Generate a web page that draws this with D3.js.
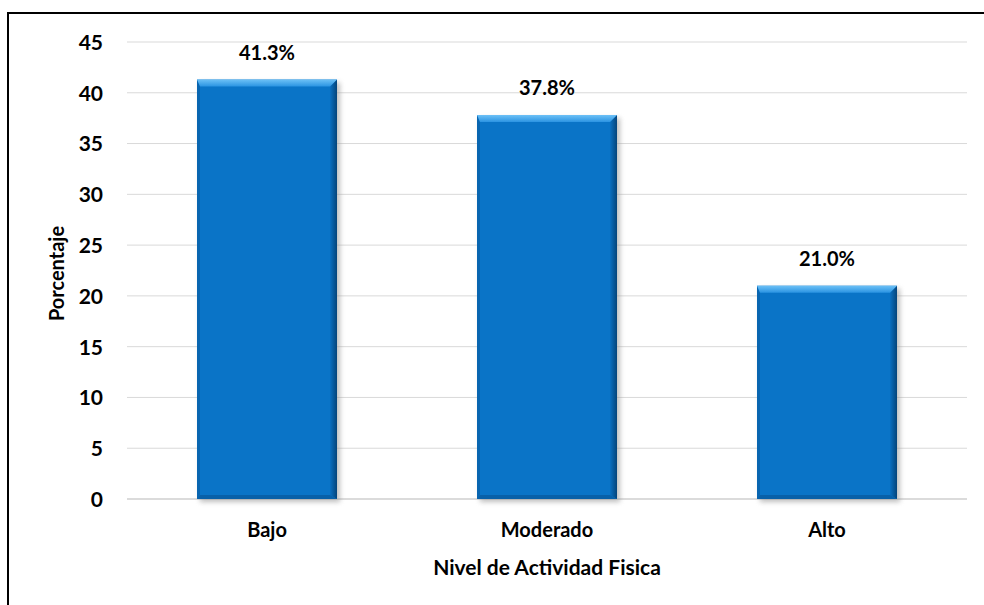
<!DOCTYPE html>
<html>
<head>
<meta charset="utf-8">
<script src="https://cdn.jsdelivr.net/npm/d3@7/dist/d3.min.js"></script>
<style>
  html, body { margin: 0; padding: 0; background: #fff; }
  svg { display: block; }
  text { font-family: Lato, "Open Sans", sans-serif; font-weight: 700; fill: #000; }
</style>
</head>
<body>
<script>
// Physical activity level distribution
const categories = ["Bajo", "Moderado", "Alto"];
const values = [41.3, 37.8, 21.0];
const valueLabels = ["41.3%", "37.8%", "21.0%"];
const yTicks = [0, 5, 10, 15, 20, 25, 30, 35, 40, 45];

const W = 984, H = 605;
const plot = { left: 127, right: 967, top: 42, bottom: 499 };
const FS = 20;

const svg = d3.select("body").append("svg").attr("width", W).attr("height", H);

const defs = svg.append("defs");
const shadow = defs.append("filter").attr("id", "barShadow")
  .attr("x", "-20%").attr("y", "-20%").attr("width", "140%").attr("height", "140%");
shadow.append("feGaussianBlur").attr("stdDeviation", 2.5);

const vGrad = defs.append("linearGradient").attr("id", "rightEdge")
  .attr("x1", 0).attr("x2", 1).attr("y1", 0).attr("y2", 0);
vGrad.append("stop").attr("offset", "0%").attr("stop-color", "#0a6fc0");
vGrad.append("stop").attr("offset", "100%").attr("stop-color", "#05447a");

const topGrad = defs.append("linearGradient").attr("id", "topBevel")
  .attr("x1", 0).attr("x2", 0).attr("y1", 0).attr("y2", 1);
topGrad.append("stop").attr("offset", "0%").attr("stop-color", "#6cc0f6");
topGrad.append("stop").attr("offset", "100%").attr("stop-color", "#2a93e2");

const x = d3.scaleBand().domain(categories).range([plot.left, plot.right]).padding(0.5).paddingOuter(0.25);
const y = d3.scaleLinear().domain([0, 45]).range([plot.bottom, plot.top]);

// frame
svg.append("path").attr("d", `M8,${H} L8,13 L${W},13`)
  .attr("fill", "none").attr("stroke", "#000").attr("stroke-width", 2);

// gridlines
svg.append("g").selectAll("line").data(yTicks).join("line")
  .attr("x1", plot.left).attr("x2", plot.right)
  .attr("y1", d => y(d)).attr("y2", d => y(d))
  .attr("stroke", d => d === 0 ? "#cfcfcf" : "#d9d9d9")
  .attr("stroke-width", d => d === 0 ? 1.5 : 1);

// y axis labels
const yAxis = d3.axisLeft(y).tickValues(yTicks).tickSize(0).tickPadding(0);
const yg = svg.append("g").attr("transform", "translate(103,0)").call(yAxis);
yg.select(".domain").remove();
yg.selectAll("text").attr("font-size", FS + 1).attr("font-family", "Lato, sans-serif")
  .attr("font-weight", 700).attr("fill", "#000").attr("dy", "0.35em");

// x axis labels
const xAxis = d3.axisBottom(x).tickSize(0).tickPadding(0);
const xg = svg.append("g").attr("transform", `translate(0,${plot.bottom})`).call(xAxis);
xg.select(".domain").remove();
xg.selectAll("text").attr("font-size", FS).attr("font-family", "Lato, sans-serif")
  .attr("font-weight", 700).attr("fill", "#000").attr("dy", null).attr("y", 38);

// bars
const bars = svg.append("g").selectAll("g").data(categories).join("g");
const bw = x.bandwidth();
const bev = 7;

bars.append("rect")
  .attr("x", d => x(d) + 3).attr("y", (d, i) => y(values[i]) + 3)
  .attr("width", bw).attr("height", (d, i) => y(0) - y(values[i]))
  .attr("fill", "#8a8a8a").attr("opacity", 0.55).attr("filter", "url(#barShadow)");

bars.append("rect")
  .attr("x", d => x(d)).attr("y", (d, i) => y(values[i]))
  .attr("width", bw).attr("height", (d, i) => y(0) - y(values[i]))
  .attr("fill", "#0a74c7");

// left edge
bars.append("path")
  .attr("d", (d, i) => {
    const x0 = x(d), y0 = y(values[i]), y1 = y(0);
    return `M${x0},${y0} L${x0 + 3},${y0 + bev} L${x0 + 3},${y1 - 4} L${x0},${y1} Z`;
  })
  .attr("fill", "#0865b0");

// right edge
bars.append("path")
  .attr("d", (d, i) => {
    const x1 = x(d) + bw, y0 = y(values[i]), y1 = y(0);
    return `M${x1},${y0} L${x1 - bev},${y0 + bev} L${x1 - bev},${y1 - 4} L${x1},${y1} Z`;
  })
  .attr("fill", "url(#rightEdge)");

// bottom edge
bars.append("path")
  .attr("d", (d, i) => {
    const x0 = x(d), x1 = x(d) + bw, y1 = y(0);
    return `M${x0},${y1} L${x0 + 3},${y1 - 4} L${x1 - bev},${y1 - 4} L${x1},${y1} Z`;
  })
  .attr("fill", "#0860a8");

// top bevel
bars.append("path")
  .attr("d", (d, i) => {
    const x0 = x(d), x1 = x(d) + bw, y0 = y(values[i]);
    return `M${x0},${y0} L${x1},${y0} L${x1 - bev},${y0 + bev} L${x0 + 3},${y0 + bev} Z`;
  })
  .attr("fill", "url(#topBevel)");

// value labels
bars.append("text")
  .attr("x", d => x(d) + bw / 2)
  .attr("y", (d, i) => y(values[i]) - 20)
  .attr("text-anchor", "middle").attr("font-size", FS)
  .text((d, i) => valueLabels[i]);

// axis titles
svg.append("text")
  .attr("x", (plot.left + plot.right) / 2).attr("y", 575)
  .attr("text-anchor", "middle").attr("font-size", FS + 1)
  .text("Nivel de Actividad Fisica");

svg.append("text")
  .attr("transform", `translate(64,${(plot.top + plot.bottom) / 2 + 3}) rotate(-90)`)
  .attr("text-anchor", "middle").attr("font-size", FS)
  .text("Porcentaje");
</script>
</body>
</html>
